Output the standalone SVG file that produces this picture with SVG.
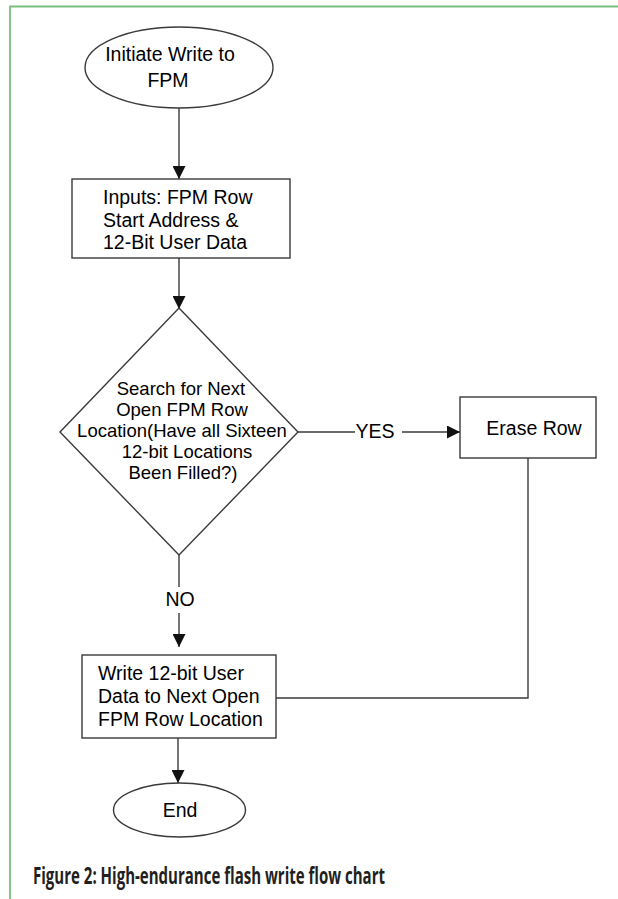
<svg xmlns="http://www.w3.org/2000/svg" width="618" height="899" viewBox="0 0 618 899">
<style>
.shape{fill:#ffffff;stroke:#3a3a3a;stroke-width:1.4}
.line{fill:none;stroke:#3a3a3a;stroke-width:1.4}
.t{font-family:"Liberation Sans",Arial,sans-serif;font-size:19.5px;fill:#000000}
.d{font-size:18.5px}
.c{text-anchor:middle}
.cap{font-family:"Open Sans","Liberation Sans",sans-serif;font-weight:bold;font-size:23px;fill:#231f20}
</style>
<defs>
<marker id="arr" markerUnits="userSpaceOnUse" markerWidth="13" markerHeight="13" refX="13" refY="6.5" orient="auto">
<path d="M0,0 L13,6.5 L0,13 z" fill="#111111"/>
</marker>
</defs>
<rect width="618" height="899" fill="#ffffff"/>
<g id="frame">
<path d="M10,899 V6.5 H618" fill="none" stroke="#7cbd7a" stroke-width="1.8"/>
</g>
<g id="connectors">
<line class="line" x1="179" y1="108" x2="179" y2="179" marker-end="url(#arr)"/>
<line class="line" x1="179" y1="258" x2="179" y2="309" marker-end="url(#arr)"/>
<line class="line" x1="298" y1="432" x2="355" y2="432"/>
<text class="t c" x="375" y="438">YES</text>
<line class="line" x1="402" y1="432" x2="460" y2="432" marker-end="url(#arr)"/>
<line class="line" x1="179" y1="555" x2="179" y2="587"/>
<text class="t c" x="180" y="606">NO</text>
<line class="line" x1="179" y1="613" x2="179" y2="647" marker-end="url(#arr)"/>
<polyline class="line" points="528,458 528,698 276,698"/>
<line class="line" x1="178" y1="738" x2="178" y2="783" marker-end="url(#arr)"/>
</g>
<g id="start">
<ellipse class="shape" cx="179" cy="67.5" rx="94" ry="40.5"/>
<text class="t c" x="170" y="61">Initiate Write to</text>
<text class="t c" x="168" y="87">FPM</text>
</g>
<g id="inputs">
<rect class="shape" x="72" y="179" width="218" height="79"/>
<text class="t" x="103" y="204">Inputs: FPM Row</text>
<text class="t" x="103" y="227">Start Address &amp;</text>
<text class="t" x="103" y="249">12-Bit User Data</text>
</g>
<g id="search">
<polygon class="shape" points="179,308 298,432 179,555 60,432"/>
<text class="t d c" x="181" y="395">Search for Next</text>
<text class="t d c" x="182" y="416">Open FPM Row</text>
<text class="t d c" x="182" y="437">Location(Have all Sixteen</text>
<text class="t d c" x="187" y="458">12-bit Locations</text>
<text class="t d c" x="183" y="479">Been Filled?)</text>
</g>
<g id="erase">
<rect class="shape" x="460" y="397" width="136" height="61"/>
<text class="t c" x="534" y="435">Erase Row</text>
</g>
<g id="write">
<rect class="shape" x="82" y="655" width="194" height="83"/>
<text class="t" x="98" y="680">Write 12-bit User</text>
<text class="t" x="98" y="703">Data to Next Open</text>
<text class="t" x="98" y="726">FPM Row Location</text>
</g>
<g id="end">
<ellipse class="shape" cx="179.5" cy="810" rx="66" ry="27"/>
<text class="t c" x="180" y="817">End</text>
</g>
<text class="cap" x="33" y="884" textLength="352" lengthAdjust="spacingAndGlyphs">Figure 2: High-endurance flash write flow chart</text>
</svg>
